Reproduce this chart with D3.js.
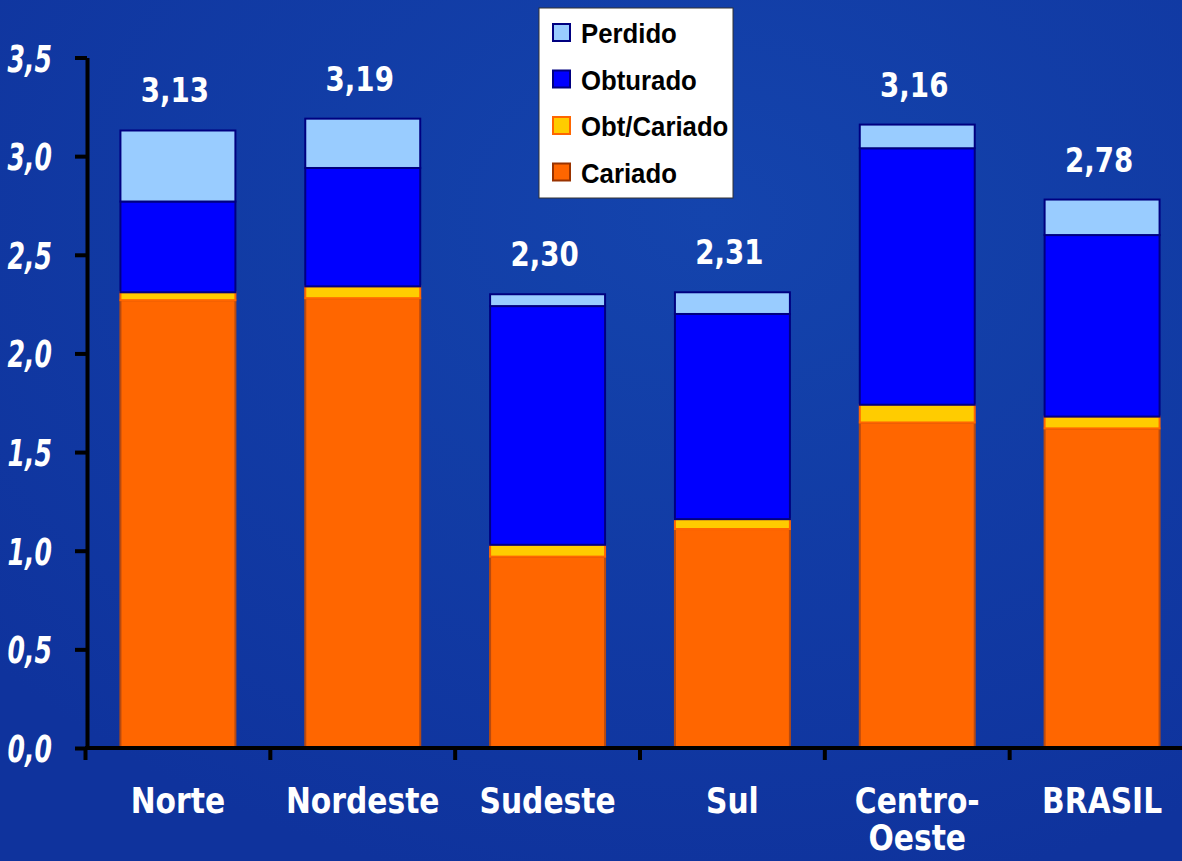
<!DOCTYPE html>
<html>
<head>
<meta charset="utf-8">
<script src="https://cdn.jsdelivr.net/npm/d3@7"></script>
<style>
  html, body { margin: 0; padding: 0; background: #10359f; }
  svg { display: block; }
</style>
</head>
<body>
<svg id="chart" width="1182" height="861"></svg>
<script>
// ---------- data ----------
const categories = ["Norte", "Nordeste", "Sudeste", "Sul", "Centro-Oeste", "BRASIL"];
const categoryLabels = [["Norte"], ["Nordeste"], ["Sudeste"], ["Sul"], ["Centro-", "Oeste"], ["BRASIL"]];
const cariado    = [2.27, 2.28, 0.97, 1.11, 1.65, 1.62];
const obtCariado = [0.04, 0.06, 0.06, 0.05, 0.09, 0.06];
const obturado   = [0.46, 0.60, 1.21, 1.04, 1.30, 0.92];
const perdido    = [0.36, 0.25, 0.06, 0.11, 0.12, 0.18];
const totals     = [3.13, 3.19, 2.30, 2.31, 3.16, 2.78];
const yTicks     = [0, 0.5, 1.0, 1.5, 2.0, 2.5, 3.0, 3.5];
const seriesNames = ["Cariado", "Obt/Cariado", "Obturado", "Perdido"];
const seriesFill   = ["#ff6600", "#ffcc00", "#0000ff", "#99ccff"];
const seriesStroke = ["#b84a10", "#ff6600", "#000080", "#000080"];

// ---------- setup ----------
const svg = d3.select("#chart");
const W = 1182, H = 861;

const defs = svg.append("defs");
const bg = defs.append("radialGradient").attr("id", "bg")
  .attr("cx", "60%").attr("cy", "25%").attr("r", "80%");
bg.append("stop").attr("offset", "0%").attr("stop-color", "#1444ad");
bg.append("stop").attr("offset", "100%").attr("stop-color", "#0f339d");
svg.append("rect").attr("width", W).attr("height", H).attr("fill", "url(#bg)");

const x = d3.scaleBand().domain(categories).range([85.5, 1194.5])
  .paddingInner(0.378).paddingOuter(0.189);
const y = d3.scaleLinear().domain([0, 3.5]).range([748, 57.5]);

const table = categories.map((c, i) => ({
  cat: c, Cariado: cariado[i], "Obt/Cariado": obtCariado[i],
  Obturado: obturado[i], Perdido: perdido[i]
}));
const stacked = d3.stack().keys(seriesNames)(table);

// ---------- bars ----------
const layers = svg.append("g").selectAll("g").data(stacked).join("g")
  .attr("fill", (d, i) => seriesFill[i])
  .attr("stroke", (d, i) => seriesStroke[i])
  .attr("stroke-width", 2);
layers.selectAll("rect").data(d => d).join("rect")
  .attr("x", d => x(d.data.cat))
  .attr("width", x.bandwidth())
  .attr("y", d => y(d[1]))
  .attr("height", d => y(d[0]) - y(d[1]));

// ---------- helper for condensed text ----------
function ctext(g, tx, ty, str, opts) {
  const t = g.append("g").attr("transform", `translate(${tx},${ty}) scale(${opts.sx},1)`)
    .append("text")
    .attr("text-anchor", opts.anchor || "middle")
    .attr("font-family", opts.family || "'DejaVu Sans', Verdana, sans-serif")
    .attr("font-weight", "bold")
    .attr("font-style", opts.italic ? "italic" : "normal")
    .attr("font-size", opts.size)
    .attr("fill", opts.fill || "#ffffff")
    .text(str);
  return t;
}

// ---------- Y axis ----------
const yAxis = d3.axisLeft(y).tickValues(yTicks).tickSize(12).tickSizeOuter(0).tickFormat(() => "");
const yG = svg.append("g").attr("transform", "translate(87,0)").call(yAxis);
yG.select(".domain").attr("stroke", "#000").attr("stroke-width", 4);
yG.selectAll(".tick line").attr("stroke", "#000").attr("stroke-width", 4);
const yLab = svg.append("g");
yTicks.forEach(v => {
  ctext(yLab, 52, y(v) + 14, d3.format(".1f")(v).replace(".", ","),
    { sx: 0.68, size: 37, anchor: "end", italic: true });
});

// ---------- X axis ----------
const step = x.step();
const xG = svg.append("g");
xG.append("line").attr("x1", 85).attr("x2", W).attr("y1", 748).attr("y2", 748)
  .attr("stroke", "#000").attr("stroke-width", 4);
categories.forEach(c => {
  const bx = x(c) + x.bandwidth() / 2 - step / 2;
  xG.append("line").attr("x1", bx).attr("x2", bx).attr("y1", 748).attr("y2", 760)
    .attr("stroke", "#000").attr("stroke-width", 4);
});
const xLab = svg.append("g");
categories.forEach((c, i) => {
  categoryLabels[i].forEach((line, j) => {
    ctext(xLab, x(c) + x.bandwidth() / 2, 813 + j * 37, line, { sx: 0.85, size: 35 });
  });
});

// ---------- totals ----------
const vLab = svg.append("g");
categories.forEach((c, i) => {
  ctext(vLab, x(c) + x.bandwidth() / 2 - 3, y(totals[i]) - 28,
    d3.format(".2f")(totals[i]).replace(".", ","), { sx: 0.84, size: 33 });
});

// ---------- legend ----------
const leg = svg.append("g").attr("transform", "translate(539,8)");
leg.append("rect").attr("width", 194).attr("height", 190)
  .attr("fill", "#ffffff").attr("stroke", "#333").attr("stroke-width", 1);
const legOrder = [3, 2, 1, 0];
legOrder.forEach((si, r) => {
  const gy = 16 + r * 46.5;
  leg.append("rect").attr("x", 14).attr("y", gy).attr("width", 17).attr("height", 17)
    .attr("fill", seriesFill[si]).attr("stroke", si === 0 ? "#993300" : seriesStroke[si])
    .attr("stroke-width", 2);
  ctext(leg, 42, gy + 19, seriesNames[si],
    { sx: 0.92, size: 28, anchor: "start", fill: "#000",
      family: "'Liberation Sans', Arial, sans-serif" });
});
</script>
</body>
</html>
